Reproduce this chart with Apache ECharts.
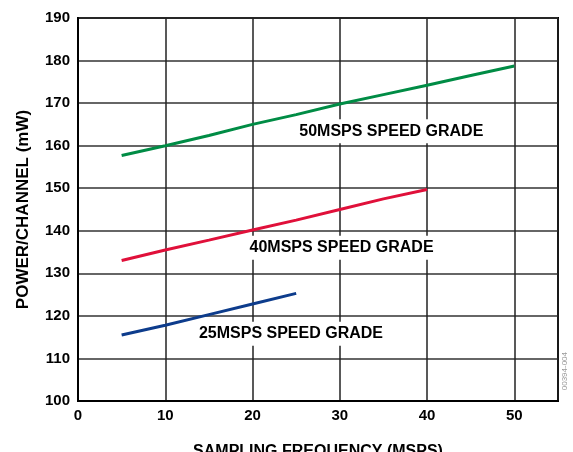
<!DOCTYPE html>
<html>
<head>
<meta charset="utf-8">
<script src="https://cdn.jsdelivr.net/npm/echarts@6/dist/echarts.min.js"></script>
<style>
  html, body { margin: 0; padding: 0; background: #fff; }
  #main { width: 573px; height: 452px; }
</style>
</head>
<body>
<div id="main"></div>
<script>
// sampling frequency (MSPS) for each speed grade
var freq50 = [5, 10, 15, 20, 25, 30, 35, 40, 45, 50];
var power50 = [157.7, 160, 162.4, 165, 167.3, 169.8, 172, 174.2, 176.5, 178.7];
var freq40 = [5, 10, 15, 20, 25, 30, 35, 40];
var power40 = [133, 135.5, 137.8, 140.2, 142.5, 145, 147.5, 149.7];
var freq25 = [5, 10, 15, 20, 25];
var power25 = [115.5, 117.8, 120.3, 122.8, 125.3];

var labelText = ["50MSPS SPEED GRADE", "40MSPS SPEED GRADE", "25MSPS SPEED GRADE"];
var labelPos = [[35.9, 163.4], [30.2, 136.0], [24.4, 115.8]];

function pairs(xs, ys) {
  var out = [];
  for (var i = 0; i < xs.length; i++) out.push([xs[i], ys[i]]);
  return out;
}

var font = "'Liberation Sans', Arial, sans-serif";

function mkLabel(i) {
  return {
    symbol: "rect",
    symbolSize: 0,
    silent: true,
    z: 1,
    data: [{
      coord: labelPos[i],
      label: {
        show: true,
        position: "inside",
        formatter: labelText[i],
        color: "#000",
        fontFamily: font,
        fontWeight: "bold",
        fontSize: 16,
        backgroundColor: "#fff",
        padding: [4, 8]
      }
    }]
  };
}

var chart = echarts.init(document.getElementById("main"));
var option = {
  animation: false,
  grid: {
    left: 78, right: 15, top: 18, bottom: 51,
    outerBoundsMode: "none",
    containLabel: false,
    show: true, borderColor: "#000", borderWidth: 2, backgroundColor: "#fff"
  },
  xAxis: {
    type: "value",
    min: 0, max: 55, interval: 10,
    name: "SAMPLING FREQUENCY (MSPS)",
    nameLocation: "middle",
    nameGap: 43,
    nameTextStyle: { fontFamily: font, fontWeight: "bold", fontSize: 16, color: "#000" },
    axisLine: { show: true, lineStyle: { color: "#000", width: 2 } },
    axisTick: { show: false },
    axisLabel: {
      fontFamily: font, fontWeight: "bold", fontSize: 15, color: "#000", margin: 7,
      formatter: function (v) { return v % 10 === 0 ? v : ""; }
    },
    splitLine: { show: true, lineStyle: { color: "#222", width: 1.5 } }
  },
  yAxis: {
    type: "value",
    min: 100, max: 190, interval: 10,
    name: "POWER/CHANNEL (mW)",
    nameLocation: "middle",
    nameGap: 46,
    nameTextStyle: { fontFamily: font, fontWeight: "bold", fontSize: 17, color: "#000" },
    axisLine: { show: true, lineStyle: { color: "#000", width: 2 } },
    axisTick: { show: false },
    axisLabel: { fontFamily: font, fontWeight: "bold", fontSize: 15, color: "#000", margin: 8 },
    splitLine: { show: true, lineStyle: { color: "#333", width: 1.5 } }
  },
  series: [
    {
      type: "line", data: pairs(freq50, power50), symbol: "none", z: 5,
      lineStyle: { color: "#008C45", width: 3 }, markPoint: mkLabel(0)
    },
    {
      type: "line", data: pairs(freq40, power40), symbol: "none", z: 5,
      lineStyle: { color: "#E0103A", width: 3 }, markPoint: mkLabel(1)
    },
    {
      type: "line", data: pairs(freq25, power25), symbol: "none", z: 5,
      lineStyle: { color: "#0D3C8C", width: 3 }, markPoint: mkLabel(2)
    }
  ],
  graphic: [{
    type: "text",
    left: 561, top: 352,
    rotation: Math.PI / 2,
    style: { text: "00394-004", fill: "#999", fontSize: 8, fontFamily: font }
  }]
};
chart.setOption(option);
</script>
</body>
</html>
